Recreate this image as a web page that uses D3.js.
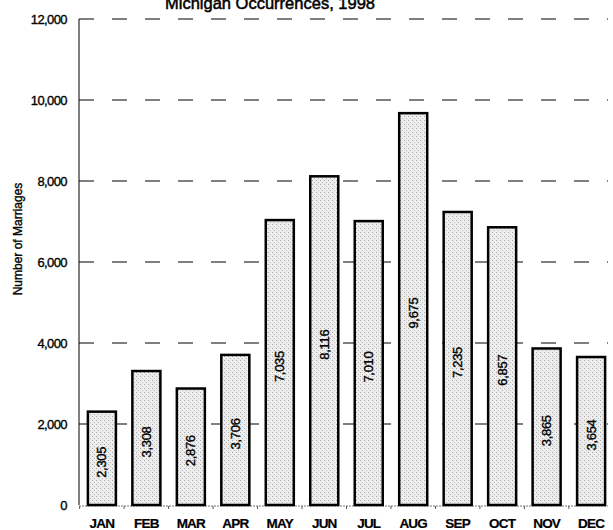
<!DOCTYPE html>
<html>
<head>
<meta charset="utf-8">
<script src="https://cdn.jsdelivr.net/npm/d3@7"></script>
<style>
  body { margin: 0; background: #fff; }
  /* the scan looks a bit heavier than plain Arial, so thicken the text a little */
  text { font-family: Arial, "Liberation Sans", sans-serif; fill: #000; stroke: #000; stroke-width: 0.35px; }
</style>
</head>
<body>
<div id="chart"></div>
<script>
// data
var months = ["JAN", "FEB", "MAR", "APR", "MAY", "JUN", "JUL", "AUG", "SEP", "OCT", "NOV", "DEC"]
var marriages = [2305, 3308, 2876, 3706, 7035, 8116, 7010, 9675, 7235, 6857, 3865, 3654]
var yTicks = [0, 2000, 4000, 6000, 8000, 10000, 12000]

var width = 613
var height = 530
// plot edges (note: "top" is reserved on window, so use other names)
var plotLeft = 79, plotRight = 614, plotTop = 19, plotBottom = 505

var svg = d3.select("#chart")
    .append("svg")
    .attr("width", width)
    .attr("height", height)

// stipple pattern for the bars
var pat = svg.append("defs").append("pattern")
    .attr("id", "stipple")
    .attr("width", 4).attr("height", 4)
    .attr("patternUnits", "userSpaceOnUse")
pat.append("rect").attr("width", 4).attr("height", 4).attr("fill", "#ececec")
pat.append("rect").attr("x", 0).attr("y", 0).attr("width", 1).attr("height", 1).attr("fill", "#a8a8a8")
pat.append("rect").attr("x", 2).attr("y", 2).attr("width", 1).attr("height", 1).attr("fill", "#bcbcbc")
pat.append("rect").attr("x", 3).attr("y", 1).attr("width", 1).attr("height", 1).attr("fill", "#fafafa")

var x = d3.scaleBand()
    .domain(months)
    .range([plotLeft, plotRight])
    .paddingInner(0.37)
    .paddingOuter(0.2)

var y = d3.scaleLinear()
    .domain([0, 12000])
    .range([plotBottom, plotTop])

// title (cut off at the top like the scan)
svg.append("text")
    .attr("x", 270)
    .attr("y", 9)
    .attr("text-anchor", "middle")
    .style("font-size", "16.5px")
    .style("stroke-width", "0.5px")
    .text("Michigan Occurrences, 1998")

// dashed gridlines
svg.selectAll(".grid")
    .data(yTicks.filter(function (d) { return d > 0 }))
    .enter()
    .append("line")
    .attr("x1", plotLeft)
    .attr("x2", 608)
    .attr("y1", function (d) { return y(d) })
    .attr("y2", function (d) { return y(d) })
    .attr("stroke", "#000")
    .attr("stroke-width", 1.2)
    .attr("stroke-dasharray", "15,18")

// y axis line
svg.append("line")
    .attr("x1", plotLeft).attr("x2", plotLeft)
    .attr("y1", plotTop).attr("y2", plotBottom)
    .attr("stroke", "#000")
    .attr("stroke-width", 1)

// x axis line (dotted, grey)
svg.append("line")
    .attr("x1", plotLeft).attr("x2", 608)
    .attr("y1", plotBottom + 1).attr("y2", plotBottom + 1)
    .attr("stroke", "#777")
    .attr("stroke-width", 1)
    .attr("stroke-dasharray", "2,1")

// small ticks between months
svg.selectAll(".xtick")
    .data(months)
    .enter()
    .append("line")
    .attr("x1", function (d) { return x(d) - x.step() * x.paddingInner() / 2 })
    .attr("x2", function (d) { return x(d) - x.step() * x.paddingInner() / 2 })
    .attr("y1", plotBottom + 1).attr("y2", plotBottom + 4)
    .attr("stroke", "#555")

// y tick labels
svg.selectAll(".ylab")
    .data(yTicks)
    .enter()
    .append("text")
    .attr("x", 67)
    .attr("y", function (d) { return y(d) + 4.5 })
    .attr("text-anchor", "end")
    .style("font-size", "13px")
    .style("letter-spacing", "-0.6px")
    .text(function (d) { return d3.format(",")(d) })

// y title
svg.append("text")
    .attr("transform", "translate(22,239) rotate(-90)")
    .attr("text-anchor", "middle")
    .style("font-size", "12px")
    .text("Number of Marriages")

// bars
svg.selectAll(".bar")
    .data(marriages)
    .enter()
    .append("rect")
    .attr("x", function (d, i) { return x(months[i]) })
    .attr("y", function (d) { return y(d) })
    .attr("width", x.bandwidth())
    .attr("height", function (d) { return plotBottom - y(d) })
    .attr("fill", "url(#stipple)")
    .attr("stroke", "#000")
    .attr("stroke-width", 2.5)

// value labels inside the bars
svg.selectAll(".val")
    .data(marriages)
    .enter()
    .append("text")
    .attr("transform", function (d, i) {
        var cx = x(months[i]) + x.bandwidth() / 2 + 4.5
        var cy = (y(d) + plotBottom) / 2 + 4
        return "translate(" + cx + "," + cy + ") rotate(-90)"
    })
    .attr("text-anchor", "middle")
    .style("font-size", "13px")
    .style("letter-spacing", "-0.3px")
    .text(function (d) { return d3.format(",")(d) })

// month labels
svg.selectAll(".xlab")
    .data(months)
    .enter()
    .append("text")
    .attr("x", function (d) { return x(d) + x.bandwidth() / 2 })
    .attr("y", 528)
    .attr("text-anchor", "middle")
    .style("font-size", "13.5px")
    .style("font-weight", "bold")
    .style("stroke-width", "0.2px")
    .style("letter-spacing", "-0.8px")
    .text(function (d) { return d })
</script>
</body>
</html>
